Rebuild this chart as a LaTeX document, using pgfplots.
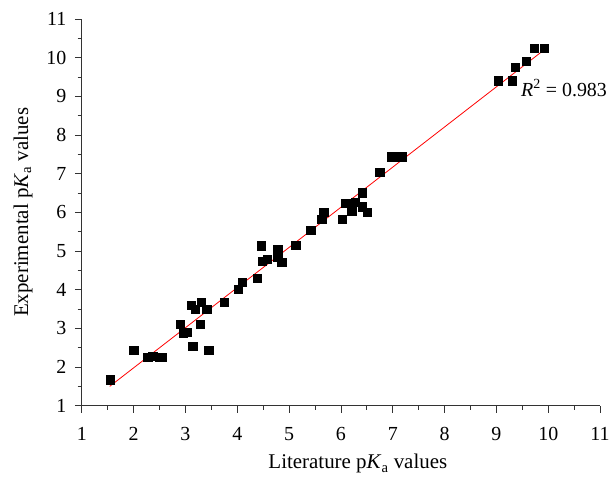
\documentclass[border=0pt]{standalone}
\usepackage{pgfplots}
\pgfplotsset{compat=1.18}
\usepackage{fontspec}
\setmainfont{Liberation Serif}
\begin{document}
\begin{tikzpicture}
\begin{axis}[
  scale only axis,
  width=520pt, height=388pt,
  xmin=1, xmax=11, ymin=1, ymax=11,
  axis lines=left,
  axis line style={-, line width=0.8pt, black!80},
  xtick={1,2,...,11}, ytick={1,2,...,11},
  minor x tick num=1, minor y tick num=1,
  tick align=outside,
  major tick length=7pt, minor tick length=4pt,
  tick style={line width=0.8pt, black!80},
  /pgf/number format/assume math mode=true,
  ticklabel style={font=\fontsize{20}{22}\selectfont},
  xticklabel style={yshift=-11pt},
  yticklabel style={xshift=-5pt},
  xlabel={Literature p\textit{K}\textsubscript{a} values},
  ylabel={Experimental p\textit{K}\textsubscript{a} values},
  label style={font=\fontsize{21}{23}\selectfont},
  xlabel style={yshift=-7pt, xshift=17pt},
  ylabel style={yshift=7pt},
  clip=false,
]
\addplot[only marks, mark=square*, mark size=4.2pt, mark options={fill=black, draw=black}] coordinates {
(1.55,1.67) (2.0,2.43) (2.27,2.26) (2.37,2.28) (2.5,2.26) (2.55,2.25)
(2.9,3.11) (2.96,2.88) (3.03,2.9) (3.11,3.6) (3.19,3.5) (3.3,3.68) (3.41,3.5)
(3.29,3.11) (3.14,2.54) (3.45,2.43) (3.75,3.68) (4.02,4.02) (4.1,4.2)
(4.39,4.3) (4.46,5.14) (4.48,4.74) (4.58,4.79) (4.78,5.05) (4.86,4.71) (4.78,4.84)
(5.13,5.15) (5.42,5.54) (5.63,5.82) (5.67,6.0) (6.02,5.82) (6.09,6.23)
(6.21,6.03) (6.27,6.26) (6.41,6.51) (6.41,6.15) (6.51,6.0) (6.21,6.15)
(6.75,7.03) (6.98,7.44) (7.08,7.44) (7.17,7.44)
(9.04,9.4) (9.31,9.4) (9.36,9.76) (9.58,9.9) (9.73,10.25) (9.92,10.25)
};
\addplot[red, line width=0.8pt] coordinates {(1.54,1.5) (9.92,10.2)};
\node[anchor=east, font=\fontsize{20}{22}\selectfont] at (axis cs:11.2,9.22) {\textit{R}\textsuperscript{2} = 0.983};
\node[inner sep=0pt, minimum size=0pt] at ([yshift=19pt]rel axis cs:0,1) {};
\node[inner sep=0pt, minimum size=0pt] at ([xshift=-82pt]rel axis cs:0,0.5) {};
\node[inner sep=0pt, minimum size=0pt] at ([yshift=-72pt]rel axis cs:0.5,0) {};
\end{axis}
\end{tikzpicture}
\end{document}
